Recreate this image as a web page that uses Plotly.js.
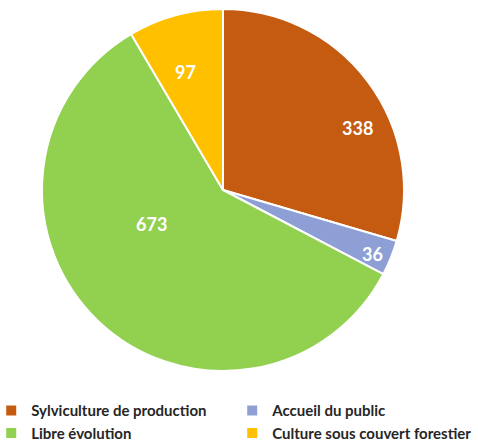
<!DOCTYPE html>
<html>
<head>
<meta charset="utf-8">
<script src="https://cdn.plot.ly/plotly-3.0.1.min.js"></script>
<style>html,body{margin:0;padding:0;background:#fff;}#chart{width:478px;height:445px;}</style>
</head>
<body>
<div id="chart"></div>
<script>
const categories = ["Sylviculture de production", "Accueil du public", "Libre évolution", "Culture sous couvert forestier"];
const values = [338, 36, 673, 97];
const colors = ["#C55A11", "#8E9FD5", "#92D050", "#FFC000"];
// placement of each value label (style only): radius fraction and angular nudge in degrees
const labelRadius = [0.82, 0.9, 0.435, 0.685];
const labelNudge = [12, 1, 21, -2.5];

const W = 478, H = 445;
const cx = 223, cy = 190, R = 181;
const domX = [(cx - R) / W, (cx + R) / W];
const domY = [(H - cy - R) / H, (H - cy + R) / H];

const trace = {
  type: "pie",
  labels: categories,
  values: values,
  sort: false,
  direction: "clockwise",
  rotation: 0,
  marker: {colors: colors, line: {color: "#ffffff", width: 2}},
  textinfo: "none",
  domain: {x: domX, y: domY},
  hoverinfo: "label+value"
};

// value labels placed from each slice's mid-angle (computed from the data)
const total = values.reduce((a, b) => a + b, 0);
let cum = 0;
const annotations = values.map((v, i) => {
  const mid = (cum + v / 2) / total * 2 * Math.PI + labelNudge[i] * Math.PI / 180;
  cum += v;
  const r = R * labelRadius[i];
  const px = cx + r * Math.sin(mid);
  const py = cy - r * Math.cos(mid);
  return {
    xref: "paper", yref: "paper",
    x: px / W, y: 1 - py / H,
    xanchor: "center", yanchor: "middle",
    text: String(v), showarrow: false,
    font: {family: "Lato, 'Open Sans', sans-serif", size: 18, color: "#ffffff", weight: "bold"}
  };
});

const layout = {
  width: W,
  height: H,
  margin: {l: 0, r: 0, t: 0, b: 0, autoexpand: false},
  paper_bgcolor: "#ffffff",
  showlegend: true,
  annotations: annotations,
  legend: {
    orientation: "h",
    xref: "container", yref: "container",
    x: 0.99, xanchor: "right",
    y: 0.114, yanchor: "top",
    entrywidth: 196,
    entrywidthmode: "pixels",
    font: {family: "Lato, 'Open Sans', sans-serif", size: 15, color: "#262626", weight: "bold"},
    itemwidth: 30,
    tracegroupgap: 0
  }
};

Plotly.newPlot("chart", [trace], layout, {displayModeBar: false, staticPlot: true});
</script>
</body>
</html>
